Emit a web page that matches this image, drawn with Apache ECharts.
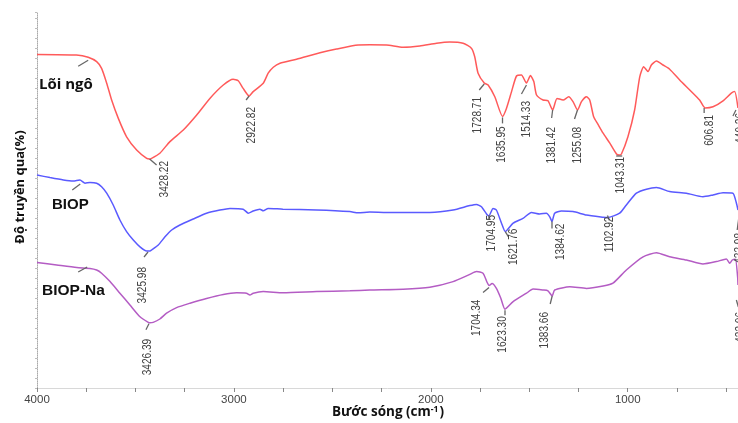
<!DOCTYPE html>
<html>
<head>
<meta charset="utf-8">
<script src="https://cdn.jsdelivr.net/npm/echarts@6/dist/echarts.min.js"></script>
<style>
html,body{margin:0;padding:0;background:#fff;}
#chart{width:738px;height:423px;}
</style>
</head>
<body>
<div id="chart"></div>
<script>
// ---------- DATA ----------
const xTickLabels = [4000, 3000, 2000, 1000];
const xMinorTicks = [4000, 3750, 3500, 3250, 3000, 2750, 2500, 2250, 2000, 1750, 1500, 1250, 1000, 750, 500];

const seriesNames = ['Lõi ngô', 'BIOP', 'BIOP-Na'];

// Lõi ngô (corn cob) – transmittance (arbitrary units)
const loiNgoWn = [4000,3800,3740,3697,3672,3646,3621,3587,3545,3494,3443,3428.22,3418,3376,3325,3257,3189,3122,3054,3004,2978,2953,2922.82,2902,2851,2826,2800,2766,2682,2563,2479,2369,2310,2225,2141,2056,1971,1904,1836,1793,1777,1760,1728.71,1709,1675,1635.95,1616,1590,1565,1540,1514.33,1494,1477,1463,1430,1405,1381.42,1359,1328,1300,1278,1255.08,1235,1210,1193,1173,1151,1125,1091,1057,1043.31,1032,999,965,939,919,897,880,854,821,787,736,685,635,606.81,567,516,474,457,440.26];
const loiNgoT  = [83.4,83.25,82.7,81.6,79.9,76.2,72,67.4,62.8,59.5,57.4,57.25,57.4,58.7,61.6,64.5,68.25,72.4,75.75,77.2,76.8,74.9,73,74.1,76.2,78.7,80.2,81.2,82.2,83.8,84.75,85.75,85.8,85.75,85.2,85.5,86.2,86.5,86.2,84.9,82.8,78.7,76.25,75.75,72.8,67.9,69.9,74.1,78,78.25,76.25,78.1,76.6,73.25,72,71.8,69.5,72.4,72,72.8,71.6,69.5,71.6,72.8,72,67.8,65.9,63.7,61.2,58.5,58.25,58.5,62.8,69.5,77.8,80.3,79.1,80.75,81.75,80.75,79.7,77,74.5,72,70,70.3,71.8,73.7,74.1,70];

// BIOP
const biopWn = [4000,3934,3866,3816,3782,3756,3731,3697,3672,3646,3613,3579,3545,3511,3477,3443,3425.98,3418,3384,3350,3316,3274,3207,3139,3071,3020,2953,2927,2902,2868,2851,2826,2751,2580,2411,2369,2310,2225,2005,1887,1802,1768,1743,1717,1704.95,1684,1667,1641,1621.76,1582,1532,1489,1447,1413,1396,1384.62,1371,1337,1278,1210,1125,1102.92,1041,1007,956,905,854,787,702,618,567,516,466,448,440];
const biopT  = [53.25,52.6,52,51.75,52,51.2,51.4,51.2,50.3,48.7,45.75,42,39.1,37,35.3,34.25,34.25,34.5,35.75,37.8,39.5,40.75,42.25,43.7,44.5,44.9,44.7,43.7,44.25,44.7,44.3,44.9,44.7,44.5,44.1,43.8,44,43.9,43.9,44.5,45.6,45.9,45.3,43.5,43,44.9,44.5,41.2,39.1,41.2,42.4,43.9,43.5,43.7,42.8,41.6,43.7,44.25,44.1,43.25,42.7,42.6,43.7,45.75,48.7,49.7,50.1,49.1,48.7,47.8,48.25,48.8,48.7,46.2,44.5];

// BIOP-Na
const biopNaWn = [4000,3900,3798,3731,3697,3672,3629,3579,3528,3477,3435,3426.39,3410,3376,3342,3291,3223,3139,3054,2986,2936,2919,2902,2851,2750,2580,2411,2310,2141,2005,1887,1802,1768,1735,1715,1704.34,1689,1667,1645,1623.30,1582,1514,1481,1430,1405,1383.66,1371,1294,1210,1125,1075,1007,922,854,787,702,618,550,499,482,469,453,442,440];
const biopNaT  = [31.4,30.75,30.1,29.9,29.5,28.7,26.6,23.7,20.75,17.8,16.4,16.3,16.4,17.25,18.7,20.1,21.2,22.4,23.4,23.8,23.7,23.25,23.7,24.1,23.8,24.1,24.3,24.5,24.7,25.2,26.6,28.4,29.1,28.7,26.5,25.6,26.1,24.9,22.5,19.7,21.6,23.7,24.75,24.5,24.3,23,24.5,25.3,24.9,25.5,26.2,29.5,32.8,33.8,32.8,32,31,31.6,32.25,31.2,32,32.2,27.8,25.75];

// Peak annotations (wavenumber, transmittance, label)
const loiNgoPeakWn  = [3740, 3428.22, 2922.82, 1728.71, 1635.95, 1514.33, 1381.42, 1255.08, 1043.31, 606.81, 440.26];
const loiNgoPeakT   = [82.7, 57.25, 73, 76.25, 67.9, 76.25, 69.5, 69.5, 58.25, 70, 70];
const loiNgoPeakLbl = ['', '3428.22', '2922.82', '1728.71', '1635.95', '1514.33', '1381.42', '1255.08', '1043.31', '606.81', '440.26'];

const biopPeakWn  = [3760, 3425.98, 1704.95, 1621.76, 1384.62, 1102.92, 433.98];
const biopPeakT   = [51.25, 34.25, 43, 39.1, 41.6, 42.6, 44.5];
const biopPeakLbl = ['', '3425.98', '1704.95', '1621.76', '1384.62', '1102.92', '433.98'];

const biopNaPeakWn  = [3740, 3426.39, 1704.34, 1623.30, 1383.66, 433.06];
const biopNaPeakT   = [30, 16.3, 25.6, 19.7, 23, 25.75];
const biopNaPeakLbl = ['', '3426.39', '1704.34', '1623.30', '1383.66', '433.06'];

// ---------- LAYOUT (pixel offsets of annotation ticks / labels from their peak) ----------
// s: [x1,y1,x2,y2] tick segment, l: [x,y] top-centre of rotated label
const loiNgoPeakLayout = [
  {s:[0,3,-10,9], l:[0,0]},
  {s:[0,0,7,6], l:[15,2]},
  {s:[0,0,-3,4], l:[3,11]},
  {s:[0,1,-5,7], l:[-7,14]},
  {s:[0,1,0,7], l:[-1,10]},
  {s:[0,2,-5,11], l:[0,18]},
  {s:[0,0,-1,8], l:[-0.5,17]},
  {s:[0,0,-3,9], l:[0.6,17]},
  {s:[-3,1,3,1], l:[1.5,2]},
  {s:[-1,0,-1,5], l:[5,7]},
  {s:[-2,2,-5,8], l:[3,5]}
];
const biopPeakLayout = [
  {s:[-4,1,-12,7], l:[0,0]},
  {s:[-2,1,-6,6], l:[-7,16]},
  {s:[0,-1,0,3], l:[3,-1]},
  {s:[0,0,3,5], l:[8,-3]},
  {s:[0,0,0,7], l:[9,2]},
  {s:[0,-2,2,3], l:[2.3,-1]},
  {s:[0,5,-2,20], l:[1,23]}
];
const biopNaPeakLayout = [
  {s:[-1,-1,-10,4], l:[0,0]},
  {s:[-1,1,-4,7], l:[-2.5,16]},
  {s:[0,2,-6,7], l:[-12.5,14]},
  {s:[0,1,0,6], l:[-2,7]},
  {s:[0,0,-2,8], l:[-7.4,16]},
  {s:[-3,15,-1,22], l:[1,27]}
];

const colors = ['#ff5a5a', '#5a5aff', '#b45cc4'];
const labelFont = '12px "Liberation Sans", Arial, sans-serif';

function zip(a, b) { return a.map((v, i) => [v, b[i]]); }

function annotationSeries(wn, t, lbl, layout) {
  return {
    type: 'custom',
    silent: true,
    z: 5,
    clip: false,
    data: wn.map((w, i) => [w, t[i], i]),
    renderItem: function (params, api) {
      const p = api.coord([api.value(0), api.value(1)]);
      const i = params.dataIndex;
      const o = layout[i];
      const children = [{
        type: 'line',
        shape: {x1: p[0] + o.s[0], y1: p[1] + o.s[1], x2: p[0] + o.s[2], y2: p[1] + o.s[3]},
        style: {stroke: '#666', lineWidth: 1.3}
      }];
      if (lbl[i]) {
        children.push({
          type: 'text',
          x: p[0] + o.l[0],
          y: p[1] + o.l[1],
          rotation: Math.PI / 2,
          scaleX: 0.84,
          style: {text: lbl[i], align: 'right', verticalAlign: 'middle', fill: '#444', font: labelFont}
        });
      }
      return {type: 'group', children: children};
    }
  };
}

const chart = echarts.init(document.getElementById('chart'), null, {renderer: 'canvas'});

const option = {
  backgroundColor: '#ffffff',
  animation: false,
  grid: {left: 37, right: 0, top: 12, bottom: 35},
  xAxis: {
    type: 'value',
    min: 440,
    max: 4000,
    inverse: true,
    splitLine: {show: false},
    axisLine: {show: true, lineStyle: {color: '#d8d8d8', width: 1}},
    axisTick: {show: true, length: 4, customValues: xMinorTicks, lineStyle: {color: '#888'}},
    axisLabel: {
      customValues: xTickLabels,
      formatter: function (v) { return String(v); },
      margin: 6,
      color: '#444',
      fontSize: 11.5,
      fontFamily: '"Liberation Sans", Arial, sans-serif'
    }
  },
  yAxis: {
    type: 'value',
    min: 0,
    max: 94,
    interval: 2.5,
    splitLine: {show: false},
    axisLine: {show: true, lineStyle: {color: '#aaa', type: 'dotted', width: 1}},
    axisTick: {show: true, length: 2, lineStyle: {color: '#bbb'}},
    axisLabel: {show: false}
  },
  graphic: [
    {type: 'text', x: 20, y: 187, rotation: Math.PI / 2,
     style: {text: 'Độ truyền qua(%)', align: 'center', verticalAlign: 'middle', fill: '#111',
             font: 'bold 13px "Open Sans", "Noto Sans", sans-serif'}},
    {type: 'text', x: 388, y: 412,
     style: {text: '{a|Bước sóng (cm}{s|-1}{a|)}', align: 'center', verticalAlign: 'middle',
             rich: {
               a: {fontSize: 13.5, fontWeight: 'bold', fontFamily: '"Open Sans", "Noto Sans", sans-serif', fill: '#111', color: '#111'},
               s: {fontSize: 8.5, fontWeight: 'bold', fontFamily: '"Open Sans", "Noto Sans", sans-serif', fill: '#111', color: '#111', verticalAlign: 'top', lineHeight: 9, padding: [0, 1, 0, 0]}
             }}},
    {type: 'text', x: 39, y: 85,
     style: {text: seriesNames[0], align: 'left', verticalAlign: 'middle', fill: '#111',
             font: 'bold 15px "Open Sans", "Noto Sans", sans-serif'}},
    {type: 'text', x: 52, y: 205,
     style: {text: seriesNames[1], align: 'left', verticalAlign: 'middle', fill: '#111',
             font: 'bold 15px "Liberation Sans", Arial, sans-serif'}},
    {type: 'text', x: 42, y: 291,
     style: {text: seriesNames[2], align: 'left', verticalAlign: 'middle', fill: '#111',
             font: 'bold 15.5px "Liberation Sans", Arial, sans-serif'}}
  ],
  series: [
    {name: seriesNames[0], type: 'line', data: zip(loiNgoWn, loiNgoT), showSymbol: false, smooth: 0.2,
     lineStyle: {color: colors[0], width: 1.5}, itemStyle: {color: colors[0]}},
    {name: seriesNames[1], type: 'line', data: zip(biopWn, biopT), showSymbol: false, smooth: 0.2,
     lineStyle: {color: colors[1], width: 1.5}, itemStyle: {color: colors[1]}},
    {name: seriesNames[2], type: 'line', data: zip(biopNaWn, biopNaT), showSymbol: false, smooth: 0.2,
     lineStyle: {color: colors[2], width: 1.5}, itemStyle: {color: colors[2]}},
    annotationSeries(loiNgoPeakWn, loiNgoPeakT, loiNgoPeakLbl, loiNgoPeakLayout),
    annotationSeries(biopPeakWn, biopPeakT, biopPeakLbl, biopPeakLayout),
    annotationSeries(biopNaPeakWn, biopNaPeakT, biopNaPeakLbl, biopNaPeakLayout)
  ]
};
chart.setOption(option);
</script>
</body>
</html>
